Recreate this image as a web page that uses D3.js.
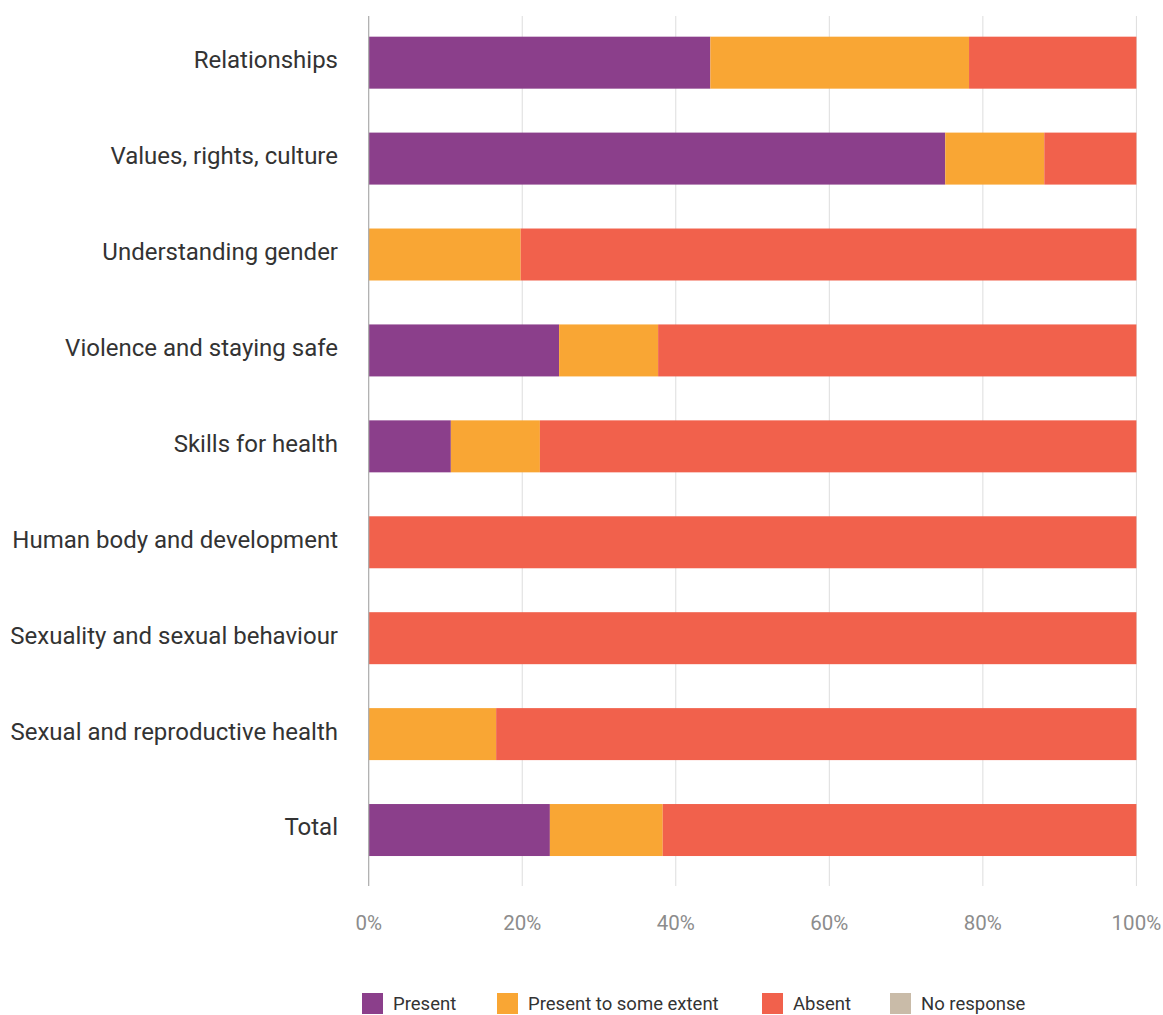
<!DOCTYPE html>
<html lang="en">
<head>
<meta charset="UTF-8">
<script src="https://d3js.org/d3.v7.min.js"></script>
<title>Topics</title>
<style>
  body { margin: 0; background: #fff; }
  text { font-family: Roboto, "Open Sans", sans-serif; }
</style>
</head>
<body>
<svg id="chart" width="1163" height="1015"></svg>
<script>
// data
const categories = ["Relationships", "Values, rights, culture", "Understanding gender",
  "Violence and staying safe", "Skills for health", "Human body and development",
  "Sexuality and sexual behaviour", "Sexual and reproductive health", "Total"];
const present      = [44.5, 75.1, 0,    24.8, 10.7, 0,   0,   0,    23.6];
const someExtent   = [33.7, 12.9, 19.8, 12.9, 11.6, 0,   0,   16.6, 14.7];
const absent       = [21.8, 12.0, 80.2, 62.3, 77.7, 100, 100, 83.4, 61.7];
const noResponse   = [0, 0, 0, 0, 0, 0, 0, 0, 0];
const seriesNames  = ["Present", "Present to some extent", "Absent", "No response"];
const xTicks       = [0, 20, 40, 60, 80, 100];

const colors = ["#8b3f8b", "#f9a634", "#f1614c", "#c9bba8"];

const svg = d3.select("#chart");
const margin = {left: 368.7, right: 26.6};
const x = d3.scaleLinear().domain([0, 100]).range([margin.left, 1163 - margin.right]);
const y = d3.scaleBand().domain(categories).range([7.9, 884.8])
  .paddingInner(0.458).paddingOuter(0.3);

// gridlines
svg.append("g").selectAll("line")
  .data(xTicks.slice(1))
  .join("line")
  .attr("x1", d => x(d)).attr("x2", d => x(d))
  .attr("y1", 16).attr("y2", 886)
  .attr("stroke", "#dddddd").attr("stroke-width", 1);

// stacked rows
const rows = categories.map((c, i) => ({cat: c, Present: present[i],
  "Present to some extent": someExtent[i], Absent: absent[i], "No response": noResponse[i]}));
const stack = d3.stack().keys(seriesNames)(rows);

svg.append("g").selectAll("g")
  .data(stack)
  .join("g")
  .attr("fill", (d, i) => colors[i])
  .selectAll("rect")
  .data(d => d)
  .join("rect")
  .attr("x", d => x(d[0]))
  .attr("y", d => y(d.data.cat))
  .attr("width", d => x(d[1]) - x(d[0]))
  .attr("height", y.bandwidth());

// zero line
svg.append("line")
  .attr("x1", x(0)).attr("x2", x(0)).attr("y1", 16).attr("y2", 886)
  .attr("stroke", "#aaaaaa").attr("stroke-width", 1.2);

// category labels
svg.append("g").selectAll("text")
  .data(categories)
  .join("text")
  .attr("x", 338)
  .attr("y", d => y(d) + y.bandwidth() / 2 - 3)
  .attr("dy", "0.35em")
  .attr("text-anchor", "end")
  .attr("font-size", 24)
  .attr("fill", "#333")
  .text(d => d);

// x tick labels
svg.append("g").selectAll("text")
  .data(xTicks)
  .join("text")
  .attr("x", d => x(d))
  .attr("y", 930)
  .attr("text-anchor", "middle")
  .attr("font-size", 20.5)
  .attr("fill", "#8c8c8c")
  .text(d => d + "%");

// legend
const legendX = [362, 497, 762, 890];
const legend = svg.append("g").selectAll("g")
  .data(seriesNames)
  .join("g")
  .attr("transform", (d, i) => "translate(" + legendX[i] + ",993)");
legend.append("rect").attr("width", 21).attr("height", 21)
  .attr("fill", (d, i) => colors[i]);
legend.append("text").attr("x", 31).attr("y", 10.5).attr("dy", "0.35em")
  .attr("font-size", 18.5).attr("fill", "#333").text(d => d);
</script>
</body>
</html>
